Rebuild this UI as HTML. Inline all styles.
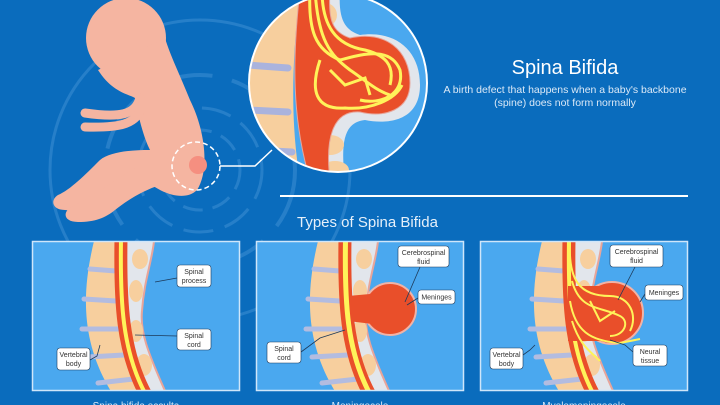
<!DOCTYPE html>
<html><head><meta charset="utf-8"><style>
html,body{margin:0;padding:0;background:#0a6cbd;}
svg{display:block}
text{font-family:"Liberation Sans",sans-serif;}
</style></head><body>
<svg width="720" height="405" viewBox="0 0 720 405" xmlns="http://www.w3.org/2000/svg">
<defs>
<clipPath id="pc"><rect x="0" y="0" width="208" height="150"/></clipPath>
<clipPath id="cc"><circle cx="338" cy="83" r="89"/></clipPath>
<g id="spine">
  <path d="M62 0 C50 50 48 100 80 152 L114 152 C90 110 88 60 89 0 Z" fill="#f7cf9e"/>
  <g stroke="#b3bce0" stroke-width="5" fill="none" stroke-linecap="round">
    <path d="M58 28 L84 30"/><path d="M52 58 L84 60"/><path d="M50 88 L86 88"/><path d="M56 116 L92 114"/><path d="M66 142 L102 138"/>
  </g>
  <path d="M89 0 C88 60 90 110 114 152 L134 152 C115 110 108 90 110 70 C112 40 120 20 122 0 Z" fill="#e2e6ec"/>
  <path d="M122 0 C120 20 112 40 110 70 C108 90 115 110 134 152" fill="none" stroke="#e8a59a" stroke-width="2"/>
  <g fill="#f7cf9e">
    <ellipse cx="108" cy="18" rx="8" ry="10"/><ellipse cx="104" cy="50" rx="7" ry="11"/><ellipse cx="104" cy="90" rx="7" ry="11"/><ellipse cx="112" cy="124" rx="8" ry="11"/>
  </g>
  <path d="M89 -2 C88 60 90 110 114 154" fill="none" stroke="#e94f2a" stroke-width="13"/>
  <path d="M89 -2 C88 60 90 110 114 154" fill="none" stroke="#fff35a" stroke-width="4"/>
</g>
</defs>

<!-- background rings -->
<g fill="none" stroke="#5aa3e0" opacity="0.35">
  <circle cx="200" cy="170" r="40" stroke-width="3" stroke-dasharray="20 10"/>
  <circle cx="200" cy="170" r="62" stroke-width="3" stroke-dasharray="30 12"/>
  <circle cx="200" cy="170" r="95" stroke-width="4" stroke-dasharray="60 20"/>
  <circle cx="200" cy="170" r="150" stroke-width="3"/>
</g>

<!-- fetus -->
<g fill="#f5b5a1">
  <circle cx="126" cy="38" r="40"/>
  <path d="M98 70 C112 92 128 94 135 98 C140 125 145 140 150 150 C130 150 110 152 100 160 C85 175 70 190 58 195 C50 200 52 210 65 210 C80 212 95 213 100 205 C110 195 125 180 140 175 C160 195 185 202 197 190 C210 170 205 130 190 100 C180 75 170 55 165 38 Z"/>
  <path d="M140 165 C115 180 95 195 75 205 C62 210 62 222 78 222 C95 222 105 218 115 210 C130 198 145 190 160 185 Z"/>
</g>
<g stroke="#f5b5a1" stroke-width="9" stroke-linecap="round" fill="none">
  <path d="M140 98 C135 115 120 118 85 113"/>
  <path d="M142 105 C138 125 118 128 85 127"/>
</g>
<circle cx="198" cy="165" r="9" fill="#f58f80"/>
<circle cx="196" cy="166" r="24" fill="none" stroke="#fff" stroke-width="1.5" stroke-dasharray="5 3"/>
<path d="M220 166 L255 166 L272 150" fill="none" stroke="#fff" stroke-width="1.5"/>

<!-- zoom circle -->
<g clip-path="url(#cc)">
  <rect x="240" y="-10" width="200" height="190" fill="#4aa8ef"/>
  <path d="M240 -10 L300 -10 C292 60 290 120 300 180 L240 180 Z" fill="#f7cf9e"/>
  <g stroke="#aab3dd" stroke-width="7" fill="none" stroke-linecap="round">
    <path d="M248 65 L288 68"/><path d="M248 110 L288 112"/><path d="M252 150 L292 152"/>
  </g>
  <path d="M300 -10 L340 -10 C338 20 345 30 360 35 C395 30 420 50 420 85 C420 120 390 125 365 120 C345 122 340 140 345 180 L310 180 C295 120 295 60 300 -10 Z" fill="#e2e6ec"/>
  <g fill="#f7cf9e"><ellipse cx="325" cy="15" rx="12" ry="12"/><ellipse cx="330" cy="145" rx="14" ry="10"/><ellipse cx="335" cy="170" rx="14" ry="9"/></g>
  <path d="M300 -10 L330 -10 C328 20 332 32 350 38 C385 30 410 50 410 83 C410 110 385 118 360 112 C332 110 325 140 330 180 L310 180 C292 120 292 60 300 -10 Z" fill="#e94f2a" stroke="#e8a59a" stroke-width="1"/>
  <g fill="none" stroke="#fff35a" stroke-width="3">
    <path d="M310 -10 C308 30 315 50 340 60 C360 55 390 45 400 70 C405 95 380 105 360 100"/>
    <path d="M315 -10 C318 40 330 55 350 70 C365 80 375 90 390 95"/>
    <path d="M320 60 C310 90 315 110 345 108 C370 110 395 100 402 85"/>
    <path d="M322 -10 C322 25 335 45 365 50 C385 55 395 65 390 85"/>
    <path d="M330 70 L345 85 L365 78 L370 95"/>
  </g>
</g>
<circle cx="338" cy="83" r="89" fill="none" stroke="#fff" stroke-width="2"/>

<!-- titles -->
<text x="565" y="74" text-anchor="middle" font-size="20" fill="#fff">Spina Bifida</text>
<text x="565" y="93" text-anchor="middle" font-size="10.5" fill="#dbe9f7">A birth defect that happens when a baby's backbone</text>
<text x="565" y="106" text-anchor="middle" font-size="10.5" fill="#dbe9f7">(spine) does not form normally</text>
<rect x="280" y="195" width="408" height="2" fill="#fff"/>
<text x="297" y="227" font-size="15" fill="#e6f0fa">Types of Spina Bifida</text>

<!-- panel 1 -->
<g transform="translate(32,241)">
  <rect x="0" y="0" width="208" height="150" fill="#4aa8ef"/>
  <g clip-path="url(#pc)"><use href="#spine"/></g>
  <rect x="0.5" y="0.5" width="207" height="149" fill="none" stroke="#cfe6fa" stroke-width="1.5"/>
</g>
<!-- panel 2 -->
<g transform="translate(256,241)">
  <rect x="0" y="0" width="208" height="150" fill="#4aa8ef"/>
  <g clip-path="url(#pc)"><use href="#spine"/>
    <circle cx="134" cy="68" r="26" fill="#e94f2a" stroke="#f1b3a6" stroke-width="2"/>
    <path d="M92 55 L125 52 L125 84 L92 80 Z" fill="#e94f2a"/>
    <path d="M90 0 C89 60 91 110 115 154" fill="none" stroke="#fff35a" stroke-width="4"/>
  </g>
  <rect x="0.5" y="0.5" width="207" height="149" fill="none" stroke="#cfe6fa" stroke-width="1.5"/>
</g>
<!-- panel 3 -->
<g transform="translate(480,241)">
  <rect x="0" y="0" width="208" height="150" fill="#4aa8ef"/>
  <g clip-path="url(#pc)"><use href="#spine"/>
    <circle cx="132" cy="72" r="31" fill="#e94f2a" stroke="#f1b3a6" stroke-width="2"/>
    <path d="M88 45 L125 45 L125 100 L88 100 Z" fill="#e94f2a"/>
    <g fill="none" stroke="#fff35a" stroke-width="2">
      <path d="M90 0 C88 40 100 55 130 55 C150 55 158 75 150 90"/>
      <path d="M92 40 C100 70 120 65 140 75 C150 80 145 95 130 95"/>
      <path d="M90 60 C95 90 110 100 140 102 L160 98"/>
      <path d="M92 80 C100 105 110 110 120 120"/>
      <path d="M110 60 L120 80 L135 70"/>
    </g>
  </g>
  <rect x="0.5" y="0.5" width="207" height="149" fill="none" stroke="#cfe6fa" stroke-width="1.5"/>
</g>

<!-- label lines -->
<g stroke="#1d3a5a" stroke-width="0.8" fill="none">
  <path d="M177 278 L155 282"/><path d="M177 336 L135 335"/><path d="M90 360 L97 356 L100 345"/>
  <path d="M420 267 L405 302"/><path d="M418 298 L407 305"/><path d="M301 352 L320 338 L345 330"/>
  <path d="M635 267 L618 300"/><path d="M645 294 L640 302"/><path d="M633 352 L625 345 L610 340"/><path d="M523 355 L530 350 L535 345"/>
</g>
<!-- labels -->
<g font-size="7" fill="#333" text-anchor="middle">
  <rect x="177" y="265" width="34" height="22" rx="3" fill="#fff" stroke="#1d3a5a" stroke-width="0.6"/>
  <text x="194" y="274">Spinal</text><text x="194" y="283">process</text>
  <rect x="177" y="329" width="34" height="21" rx="3" fill="#fff" stroke="#1d3a5a" stroke-width="0.6"/>
  <text x="194" y="338">Spinal</text><text x="194" y="347">cord</text>
  <rect x="57" y="348" width="33" height="22" rx="3" fill="#fff" stroke="#1d3a5a" stroke-width="0.6"/>
  <text x="73.5" y="357">Vertebral</text><text x="73.5" y="366">body</text>

  <rect x="398" y="246" width="51" height="21" rx="3" fill="#fff" stroke="#1d3a5a" stroke-width="0.6"/>
  <text x="423.5" y="255">Cerebrospinal</text><text x="423.5" y="264">fluid</text>
  <rect x="418" y="290" width="37" height="14" rx="3" fill="#fff" stroke="#1d3a5a" stroke-width="0.6"/>
  <text x="436.5" y="299.5">Meninges</text>
  <rect x="267" y="342" width="34" height="21" rx="3" fill="#fff" stroke="#1d3a5a" stroke-width="0.6"/>
  <text x="284" y="351">Spinal</text><text x="284" y="360">cord</text>

  <rect x="610" y="245" width="53" height="22" rx="3" fill="#fff" stroke="#1d3a5a" stroke-width="0.6"/>
  <text x="636.5" y="254">Cerebrospinal</text><text x="636.5" y="263">fluid</text>
  <rect x="645" y="285" width="38" height="15" rx="3" fill="#fff" stroke="#1d3a5a" stroke-width="0.6"/>
  <text x="664" y="295">Meninges</text>
  <rect x="633" y="345" width="34" height="21" rx="3" fill="#fff" stroke="#1d3a5a" stroke-width="0.6"/>
  <text x="650" y="354">Neural</text><text x="650" y="363">tissue</text>
  <rect x="490" y="348" width="33" height="21" rx="3" fill="#fff" stroke="#1d3a5a" stroke-width="0.6"/>
  <text x="506.5" y="357">Vertebral</text><text x="506.5" y="366">body</text>
</g>

<!-- captions -->
<g font-size="10" fill="#dbe9f7" text-anchor="middle">
  <text x="136" y="409">Spina bifida occulta</text>
  <text x="360" y="409">Meningocele</text>
  <text x="584" y="409">Myelomeningocele</text>
</g>
</svg>
</body></html>
